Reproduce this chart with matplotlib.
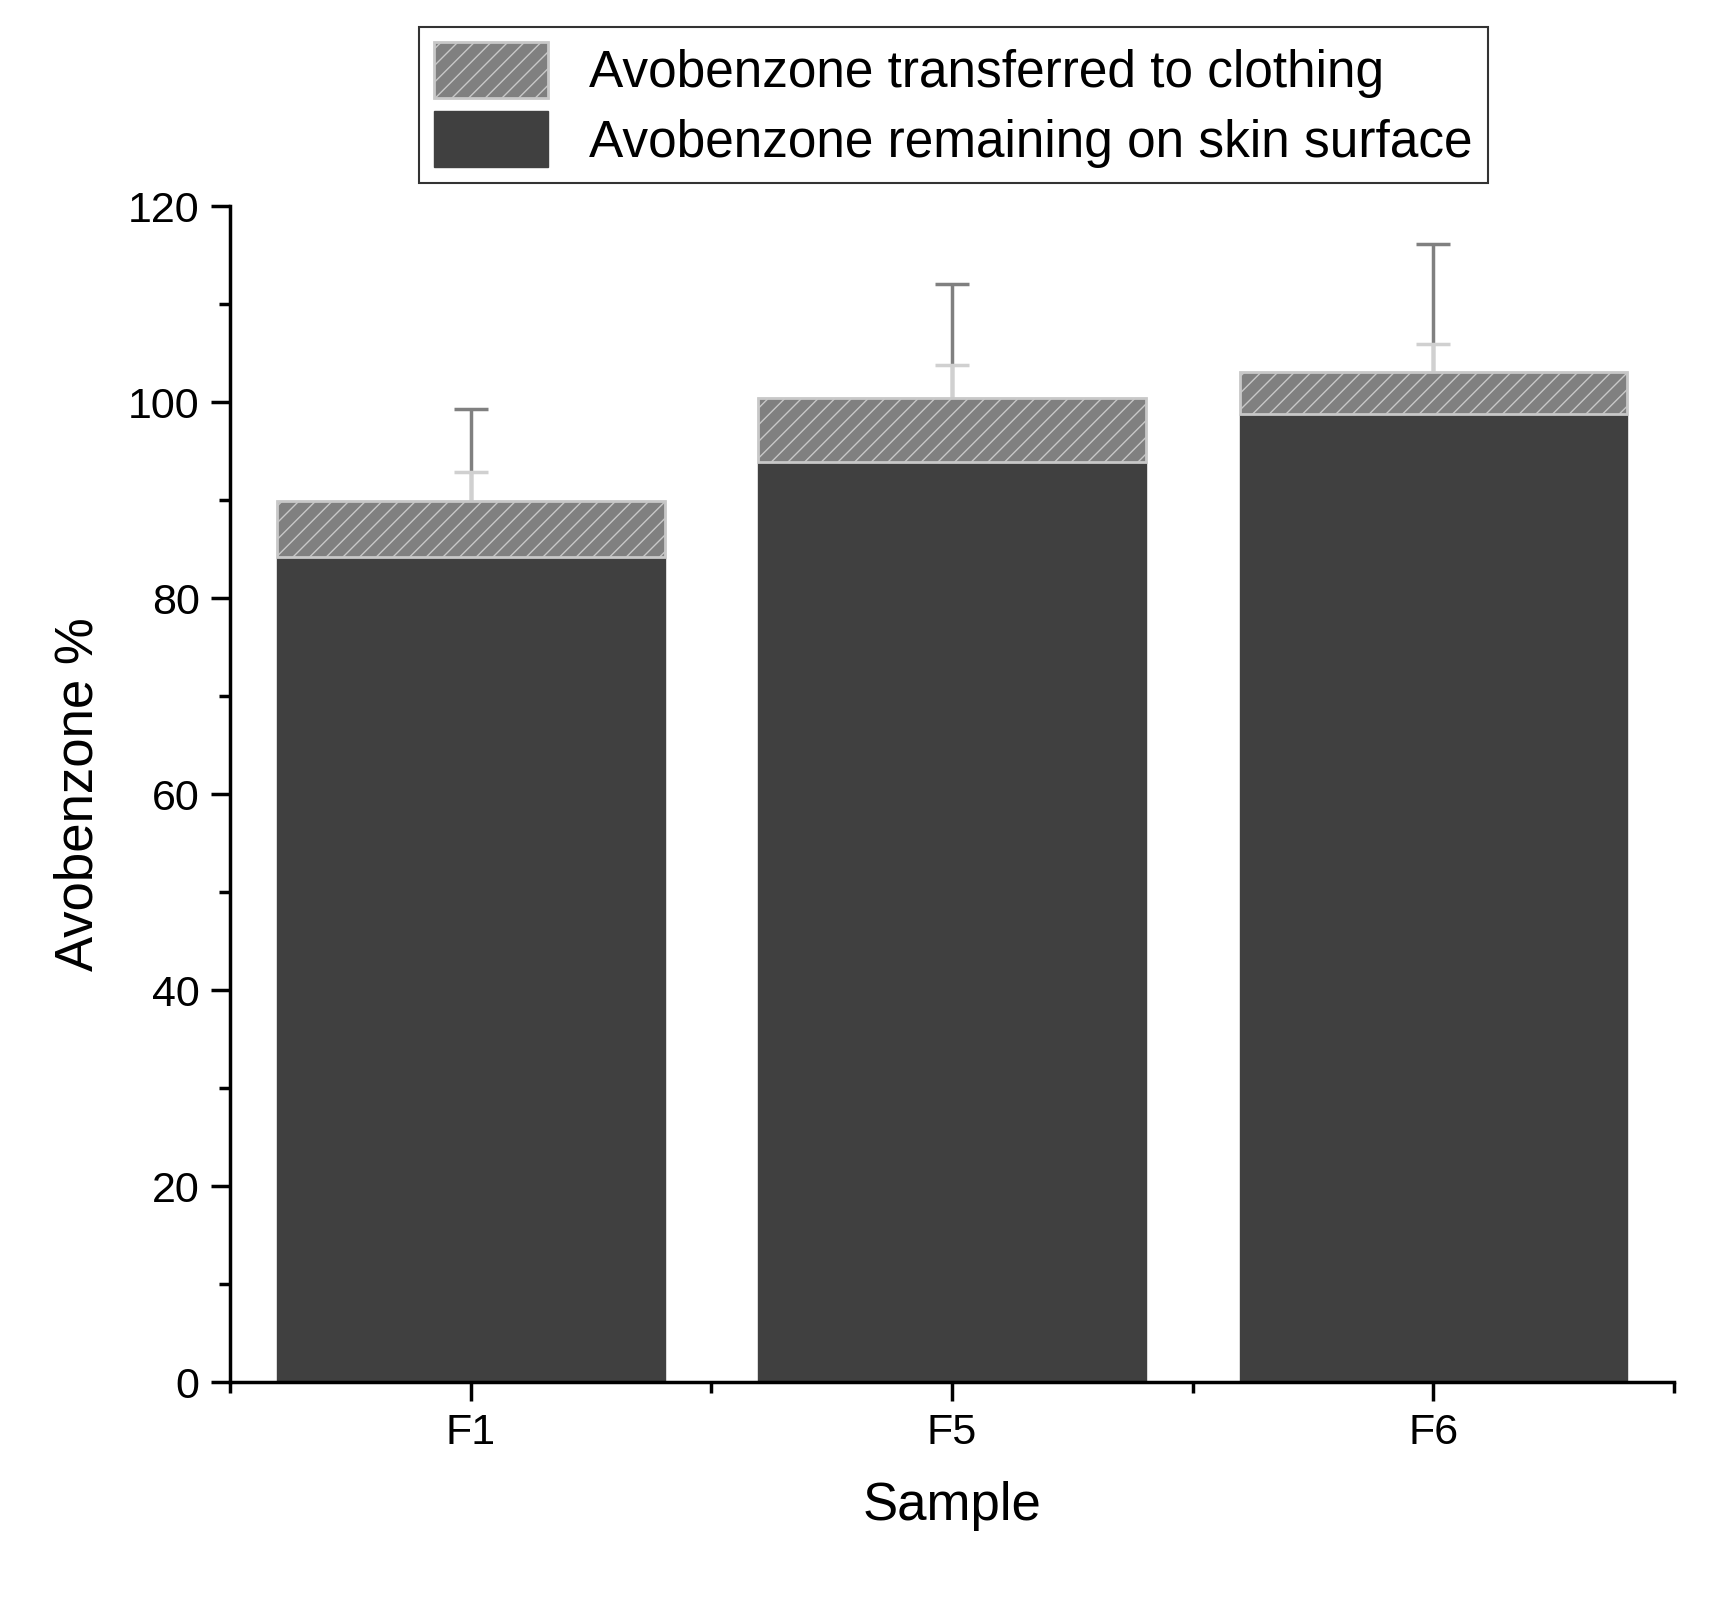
import numpy as np
import matplotlib
matplotlib.use('Agg')
import matplotlib.pyplot as plt
from matplotlib.ticker import MultipleLocator

samples = ['F1', 'F5', 'F6']
remaining = [84.2, 93.9, 98.8]
transferred_top = [89.9, 100.4, 103.1]
remaining_err_up = [15.1, 18.2, 17.3]
transferred_err = [3.0, 3.4, 2.8]

transferred = [t - r for t, r in zip(transferred_top, remaining)]
x = np.arange(1, len(samples) + 1)

plt.rcParams['font.family'] = 'Liberation Sans'
plt.rcParams['hatch.color'] = '#c8c8c8'
fig = plt.figure(figsize=(17.31, 15.99), dpi=100)
ax = fig.add_axes([0.133, 0.1355, 0.834, 0.7355])

ax.errorbar(x, remaining, yerr=[np.zeros(3), remaining_err_up], fmt='none',
            ecolor='#808080', elinewidth=2.5, capsize=12, capthick=2.5, zorder=1)
ax.errorbar(x, transferred_top, yerr=transferred_err, fmt='none',
            ecolor='#d0d0d0', elinewidth=2.5, capsize=12, capthick=2.5, zorder=1)
ax.bar(x, remaining, width=0.805, color='#404040', edgecolor='#404040',
       label='Avobenzone remaining on skin surface', zorder=2)
ax.bar(x, transferred, bottom=remaining, width=0.805, color='#808080',
       edgecolor='#c8c8c8', linewidth=2, hatch='//',
       label='Avobenzone transferred to clothing', zorder=2)

ax.set_xlim(0.5, 3.5)
ax.set_ylim(0, 120)
ax.set_xticks(x)
ax.set_xticklabels(samples)
ax.xaxis.set_minor_locator(MultipleLocator(0.5))
ax.yaxis.set_major_locator(MultipleLocator(20))
ax.yaxis.set_minor_locator(MultipleLocator(10))
for s in ['top', 'right']:
    ax.spines[s].set_visible(False)
for s in ['left', 'bottom']:
    ax.spines[s].set_linewidth(2.5)
ax.tick_params(which='major', length=14, width=2.5, labelsize=31, pad=8)
ax.tick_params(which='minor', length=8, width=2.5)
ax.set_xlabel('Sample', fontsize=38, labelpad=20)
ax.set_ylabel('Avobenzone %', fontsize=38, labelpad=18)

h, l = ax.get_legend_handles_labels()
leg = ax.legend(h[::-1], l[::-1], loc='lower left', bbox_to_anchor=(0.113, 0.998, 0.85, 0.14),
                fontsize=37, frameon=True, fancybox=False, edgecolor='black',
                handlelength=2.2, handleheight=1.3, borderpad=0.3, labelspacing=0.25)
leg.get_frame().set_linewidth(1.5)

fig.savefig('out.png')
